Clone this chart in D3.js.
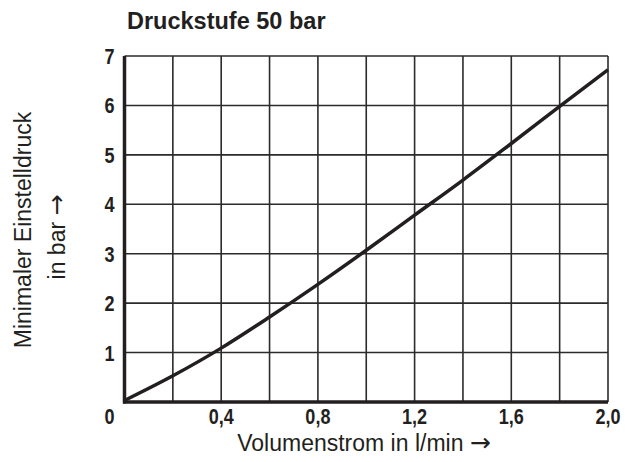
<!DOCTYPE html>
<html>
<head>
<meta charset="utf-8">
<script src="https://cdn.jsdelivr.net/npm/d3@7"></script>
<style>
  body { margin: 0; background: #fff; }
  svg { display: block; }
  .tick-label { font-family: "Liberation Sans", Arial, sans-serif; font-weight: bold; font-size: 22px; fill: #231f20; }
  .title { font-family: "Liberation Sans", Arial, sans-serif; font-weight: bold; font-size: 23.5px; fill: #231f20; }
  .axis-title { font-family: "Liberation Sans", Arial, sans-serif; font-size: 23px; fill: #231f20; }
  .arrow { font-family: "DejaVu Sans", sans-serif; font-size: 25px; }
</style>
</head>
<body>
<div id="chart"></div>
<script>
// values
var flowValues = [0, 0.2, 0.4, 0.6, 0.8, 1.0, 1.2, 1.4, 1.6, 1.8, 2.0];
var pressureValues = [0.03, 0.53, 1.09, 1.72, 2.38, 3.07, 3.78, 4.49, 5.23, 5.98, 6.72];
var xTickValues = [0.4, 0.8, 1.2, 1.6, 2.0];
var yTickValues = [1, 2, 3, 4, 5, 6, 7];
var xGridValues = [0.2, 0.4, 0.6, 0.8, 1.0, 1.2, 1.4, 1.6, 1.8, 2.0];
var yGridValues = [1, 2, 3, 4, 5, 6, 7];

var W = 629, H = 462;
var margin = { top: 56, right: 21, bottom: 60, left: 124.5 },
    width = W - margin.left - margin.right,
    height = H - margin.top - margin.bottom;

var svg = d3.select('#chart').append('svg')
    .attr('width', W)
    .attr('height', H);

var g = svg.append('g')
    .attr('transform', 'translate(' + margin.left + ',' + margin.top + ')');

var x = d3.scaleLinear().domain([0, 2]).range([0, width]);
var y = d3.scaleLinear().domain([0, 7]).range([height, 0]);

// grid
g.selectAll('.vgrid')
    .data(xGridValues)
    .enter()
    .append('line')
        .attr('class', 'vgrid')
        .attr('x1', function(d) { return x(d); })
        .attr('x2', function(d) { return x(d); })
        .attr('y1', 0)
        .attr('y2', height)
        .style('stroke', '#2b2b2b')
        .style('stroke-width', 1.6);

g.selectAll('.hgrid')
    .data(yGridValues)
    .enter()
    .append('line')
        .attr('class', 'hgrid')
        .attr('x1', 0)
        .attr('x2', width)
        .attr('y1', function(d) { return y(d); })
        .attr('y2', function(d) { return y(d); })
        .style('stroke', '#2b2b2b')
        .style('stroke-width', 1.6);

// thick axes (left and bottom)
g.append('line')
    .attr('x1', x(0)).attr('x2', x(0))
    .attr('y1', y(7)).attr('y2', height + 1.5)
    .style('stroke', '#231f20').style('stroke-width', 3.5);
g.append('line')
    .attr('x1', -1.5).attr('x2', x(2))
    .attr('y1', height).attr('y2', height)
    .style('stroke', '#231f20').style('stroke-width', 3.5);

// curve
var line = d3.line()
    .x(function(d, i) { return x(flowValues[i]); })
    .y(function(d) { return y(d); })
    .curve(d3.curveMonotoneX);

g.append('path')
    .datum(pressureValues)
    .attr('d', line)
    .style('fill', 'none')
    .style('stroke', '#231f20')
    .style('stroke-width', 3.5);

// y tick labels (squeezed to look like condensed type)
g.selectAll('.ylab')
    .data(yTickValues)
    .enter()
    .append('text')
        .attr('class', 'tick-label')
        .attr('transform', function(d) { return 'translate(-10,' + (y(d) + 8) + ')scale(0.82,1)'; })
        .style('text-anchor', 'end')
        .text(function(d) { return d; });

// x tick labels
g.selectAll('.xlab')
    .data(xTickValues)
    .enter()
    .append('text')
        .attr('class', 'tick-label')
        .attr('transform', function(d) { return 'translate(' + x(d) + ',' + (height + 22) + ')scale(0.82,1)'; })
        .style('text-anchor', 'middle')
        .text(function(d) { return d.toFixed(1).replace('.', ','); });

// shared zero at the corner
g.append('text')
    .attr('class', 'tick-label')
    .attr('transform', 'translate(-15,' + (height + 22) + ')scale(0.82,1)')
    .style('text-anchor', 'middle')
    .text('0');

// titles
svg.append('text')
    .attr('class', 'title')
    .attr('x', 127)
    .attr('y', 29)
    .text('Druckstufe 50 bar');

var xt = svg.append('text')
    .attr('class', 'axis-title')
    .attr('x', 364)
    .attr('y', 451)
    .style('text-anchor', 'middle');
xt.append('tspan').text('Volumenstrom in l/min ');
xt.append('tspan').attr('class', 'arrow').text('\u2192');

svg.append('text')
    .attr('class', 'axis-title')
    .attr('transform', 'translate(31,230)rotate(-90)')
    .style('text-anchor', 'middle')
    .text('Minimaler Einstelldruck');

var yt = svg.append('text')
    .attr('class', 'axis-title')
    .attr('transform', 'translate(65,237)rotate(-90)')
    .style('text-anchor', 'middle');
yt.append('tspan').text('in bar ');
yt.append('tspan').attr('class', 'arrow').text('\u2192');
</script>
</body>
</html>
